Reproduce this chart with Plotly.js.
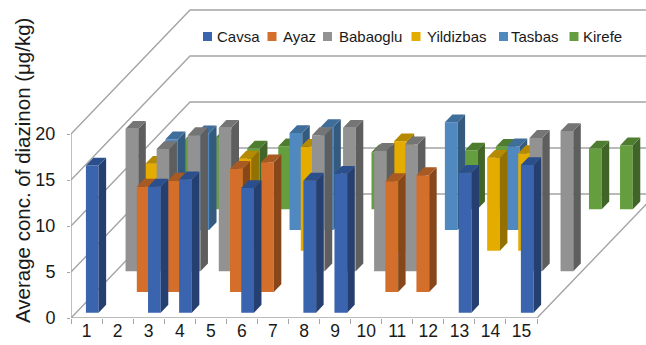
<!DOCTYPE html>
<html>
<head>
<meta charset="utf-8">
<script src="https://cdn.plot.ly/plotly-3.0.1.min.js"></script>
<style>html,body{margin:0;padding:0;background:#fff;overflow:hidden}#chart{width:646px;height:345px}</style>
</head>
<body>
<div id="chart"></div>
<script>
// Diazinon concentration per sampling point, one list per site (null = no bar).
var sites = [1, 2, 3, 4, 5, 6, 7, 8, 9, 10, 11, 12, 13, 14, 15];
var seriesNames = ['Cavsa', 'Ayaz', 'Babaoglu', 'Yildizbas', 'Tasbas', 'Kirefe'];
var cavsa     = [16.0, null, 13.7, 14.5, null, 13.55, null, 14.35, 15.1, null, null, null, 15.2, null, 16.05];
var ayaz      = [null, 11.45, 12.1, null, 13.4, 14.1, null, null, null, 12.05, 12.7, null, null, null, null];
var babaoglu  = [15.5, 13.3, 14.8, 15.6, null, null, 14.8, 15.6, 13.1, 13.8, null, null, null, 14.5, 15.25];
var yildizbas = [9.45, null, null, 10.0, null, 11.3, null, null, 11.9, null, null, 10.1, 10.6, null, null];
var tasbas    = [9.85, 10.5, null, null, 10.55, 11.2, null, null, null, 11.7, null, 9.1, null, null, null];
var kirefe    = [7.6, 7.85, 6.6, 6.85, null, null, 6.2, null, null, 6.4, 6.8, null, null, 6.6, 6.95];
var seriesValues = [cavsa, ayaz, babaoglu, yildizbas, tasbas, kirefe];
var valueTicks = [0, 5, 10, 15, 20];

// Face colours per series: front, side, top.
var faceColors = [
  ['#3A65AE', '#254070', '#2B4E8C'],
  ['#D36F2A', '#87471A', '#A85A22'],
  ['#929292', '#5E5E5E', '#757575'],
  ['#E5AC00', '#937000', '#B68A00'],
  ['#5089C0', '#345A7E', '#3F6E9B'],
  ['#659E3E', '#416528', '#4E7D30']
];

// Legend layout along the top of the chart, in page pixels.
var legendSwatchX = [203, 267.5, 323, 411.5, 499, 569.5];
var legendTextX = [216, 281.5, 338, 426, 510, 581.5];

var W = 646, H = 345, LEFT = 71, BOTTOM = 27;
var PX_PER_SITE = 31.07, PX_PER_UNIT = 9.2;
var GRID = '#A4A4A4', INK = '#1a1a1a', FONT = '"Liberation Sans", Arial, sans-serif';

// Oblique projection: depth 0..1 runs from the front floor edge to the back wall.
var DEPTH_X = 119 / PX_PER_SITE, DEPTH_Y = 124 / PX_PER_UNIT;
var ROW_STEP = 1 / 6, ROW_START = 0.043, BAR_DEPTH = 0.063, BAR_WIDTH = 0.41, BAR_SHIFT = 0.02;
function px(site, depth) { return site + depth * DEPTH_X; }
function py(value, depth) { return value + depth * DEPTH_Y; }

var traces = [];
function addLine(xs, ys) {
  traces.push({x: xs, y: ys, mode: 'lines', cliponaxis: false, hoverinfo: 'skip', showlegend: false,
    line: {color: GRID, width: 1.4}});
}

// Walls and floor outline.
var topTick = valueTicks[valueTicks.length - 1];
addLine([0, 0], [0, topTick]);
valueTicks.forEach(function (v) {
  addLine([px(0, 0), px(0, 1), px(W / PX_PER_SITE, 1)], [py(v, 0), py(v, 1), py(v, 1)]);
});
addLine([0, sites.length], [0, 0]);
addLine([px(sites.length, 0), px(sites.length, 1)], [py(0, 0), py(0, 1)]);

// Bars, from the back row to the front row so nearer bars cover farther ones.
for (var row = seriesValues.length - 1; row >= 0; row--) {
  var values = seriesValues[row];
  var d0 = ROW_START + row * ROW_STEP, d1 = d0 + BAR_DEPTH;
  var face = [{x: [], y: []}, {x: [], y: []}, {x: [], y: []}];
  values.forEach(function (v, i) {
    if (v === null) return;
    var a = i + 0.5 + BAR_SHIFT - BAR_WIDTH / 2, b = i + 0.5 + BAR_SHIFT + BAR_WIDTH / 2;
    face[0].x.push(px(a, d0), px(b, d0), px(b, d0), px(a, d0), px(a, d0), null);
    face[0].y.push(py(0, d0), py(0, d0), py(v, d0), py(v, d0), py(0, d0), null);
    face[1].x.push(px(b, d0), px(b, d1), px(b, d1), px(b, d0), px(b, d0), null);
    face[1].y.push(py(0, d0), py(0, d1), py(v, d1), py(v, d0), py(0, d0), null);
    face[2].x.push(px(a, d0), px(b, d0), px(b, d1), px(a, d1), px(a, d0), null);
    face[2].y.push(py(v, d0), py(v, d0), py(v, d1), py(v, d1), py(v, d0), null);
  });
  face.forEach(function (f, k) {
    traces.push({x: f.x, y: f.y, mode: 'lines', fill: 'toself', fillcolor: faceColors[row][k],
      line: {width: 0}, name: seriesNames[row], hoverinfo: 'skip', showlegend: false});
  });
}

// Key across the top.
var shapes = [], annotations = [];
seriesNames.forEach(function (name, i) {
  shapes.push({type: 'rect', xref: 'paper', yref: 'paper', line: {width: 0}, fillcolor: faceColors[i][0],
    x0: (legendSwatchX[i] - LEFT) / (W - LEFT), x1: (legendSwatchX[i] + 9 - LEFT) / (W - LEFT),
    y0: (H - BOTTOM - 41) / (H - BOTTOM), y1: (H - BOTTOM - 32) / (H - BOTTOM)});
  annotations.push({text: name, xref: 'paper', yref: 'paper', showarrow: false,
    x: (legendTextX[i] - LEFT) / (W - LEFT), y: (H - BOTTOM - 37) / (H - BOTTOM),
    xanchor: 'left', yanchor: 'middle', xshift: -1, font: {family: FONT, size: 15, color: INK}});
});
annotations.push({text: 'Average conc. of diazinon (μg/kg)', textangle: -90, showarrow: false,
  xref: 'paper', yref: 'paper', x: (22 - LEFT) / (W - LEFT), y: (H - BOTTOM - 171) / (H - BOTTOM),
  xanchor: 'center', yanchor: 'middle', font: {family: FONT, size: 20.5, color: INK}});

var layout = {
  width: W, height: H, paper_bgcolor: '#fff', plot_bgcolor: '#fff', showlegend: false,
  margin: {l: LEFT, r: 0, t: 0, b: BOTTOM, pad: 0},
  xaxis: {
    range: [0, (W - LEFT) / PX_PER_SITE], showgrid: false, zeroline: false, showline: false,
    tickmode: 'array', tickvals: sites.map(function (s) { return s - 0.5; }), ticktext: sites.map(String),
    ticks: '', ticklabelstandoff: 4.5, tickangle: 0, tickfont: {family: FONT, size: 17.5, color: INK},
    minor: {tickmode: 'array', tickvals: sites.map(function (s) { return s - 1; }).concat(sites.length),
      ticks: 'outside', ticklen: 5, tickwidth: 1, tickcolor: GRID, showgrid: false}
  },
  yaxis: {
    range: [0, (H - BOTTOM) / PX_PER_UNIT], showgrid: false, zeroline: false, showline: false,
    tickmode: 'array', tickvals: valueTicks, ticks: 'outside', ticklen: 3, tickwidth: 1, tickcolor: GRID,
    ticklabelstandoff: 8, tickfont: {family: FONT, size: 18, color: INK}
  },
  shapes: shapes, annotations: annotations
};

Plotly.newPlot('chart', traces, layout, {staticPlot: true, displayModeBar: false});
</script>
</body>
</html>
